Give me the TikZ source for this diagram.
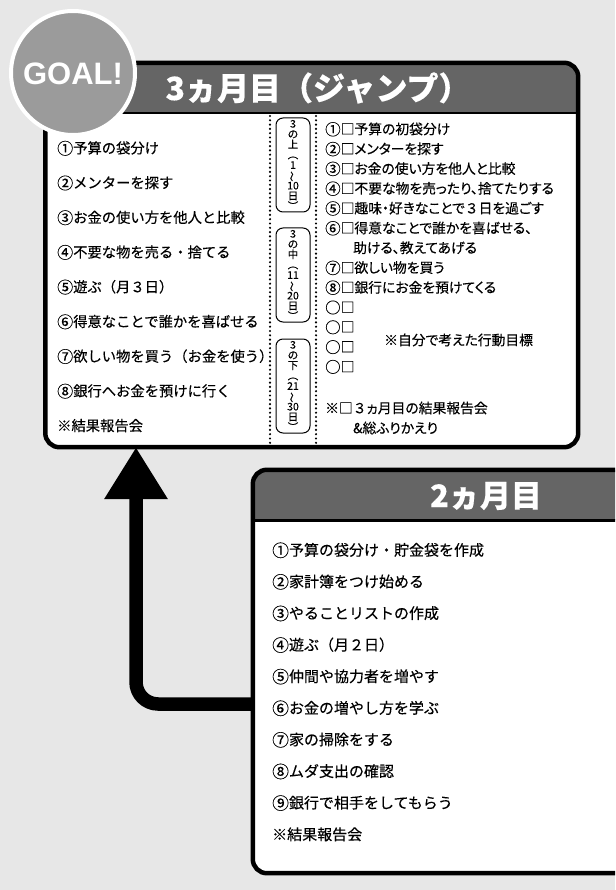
\documentclass[tikz,border=0pt]{standalone}
\usepackage{fontspec}
\usepackage{graphicx}
\usetikzlibrary{arrows.meta}
\setmainfont{Noto Sans CJK JP}[FakeBold=0.3]
\newfontfamily\rfont{Noto Sans CJK JP}[RawFeature=+palt, FakeBold=0.3]
\newfontfamily\nfont{Noto Sans CJK JP}[FakeBold=0.3]
\newfontfamily\goalfont{Liberation Sans}
\newcommand\cn[1]{\raisebox{-0.07em}{\scalebox{1.12}{#1}}}
\newcommand\pillopen{︵}
\newcommand\pillwave{\rotatebox[origin=c]{90}{〜}}
\definecolor{bgc}{HTML}{E7E7E7}
\definecolor{hdrc}{HTML}{656565}
\definecolor{goalc}{HTML}{9B9B9B}
\tikzset{
  ltxt/.style={anchor=base west, inner sep=0pt, font=\fontsize{14.3}{14.3}\selectfont},
  rtxt/.style={anchor=base west, inner sep=0pt, font=\rfont\fontsize{13.8}{13.8}\selectfont},
  btxt/.style={anchor=base west, inner sep=0pt, font=\fontsize{15}{15}\selectfont},
  boxbody/.style={fill=white, draw=none, inner sep=0pt, rounded corners=14pt},
  boxborder/.style={line width=4.5pt, rounded corners=14pt},
  hdrline/.style={line width=2.5pt},
  hdrtext/.style={text=white, inner sep=0pt},
  dotline/.style={line width=2.4pt, line cap=round, dash pattern=on 0pt off 4.3pt},
  pill/.style={draw, line width=1pt, rounded corners=7pt, minimum width=34pt, minimum height=94pt, inner sep=0pt, align=center, font=\fontsize{10.5}{10.3}\selectfont},
  bigarrow/.style={line width=13.5pt, rounded corners=22pt, -{Triangle[width=60pt,length=52pt]}}
}
\begin{document}
\begin{tikzpicture}[x=1pt,y=-1pt]
\fill[bgc] (0,0) rectangle (615,890);
\useasboundingbox (0,0) rectangle (615,890);
\clip (0,0) rectangle (615,890);

% ---------- 2nd month box ----------
\node[boxbody, minimum width=464pt, minimum height=403pt] (m2) at (485,671.5) {};
\fill[hdrc] (m2.west |- 0,520) [rounded corners=14pt] -- (m2.north west) -- (m2.north east) [sharp corners] -- (m2.east |- 0,520) -- cycle;
\draw[hdrline] (m2.west |- 0,520.5) -- (m2.east |- 0,520.5);
\draw[boxborder] (m2.north west) rectangle (m2.south east);
\node[hdrtext, font=\fontsize{31}{31}\selectfont\bfseries] (m2title) at (486,496) {2ヵ月目};

\foreach \t [count=\i] in {{\cn①予算の袋分け・貯金袋を作成},{\cn②家計簿をつけ始める},{\cn③やることリストの作成},{\cn④遊ぶ（月２日）},{\cn⑤仲間や協力者を増やす},{\cn⑥お金の増やし方を学ぶ},{\cn⑦家の掃除をする},{\cn⑧ムダ支出の確認},{\cn⑨銀行で相手をしてもらう},{※結果報告会}}
  \node[btxt] (b\i) at (272,{550+(\i-1)*31.6+5.6}) {\t};

% ---------- 3rd month box ----------
\node[boxbody, minimum width=532.5pt, minimum height=384pt] (m3) at (311.75,255) {};
\fill[hdrc] (m3.west |- 0,113) [rounded corners=14pt] -- (m3.north west) -- (m3.north east) [sharp corners] -- (m3.east |- 0,113) -- cycle;
\draw[hdrline] (m3.west |- 0,113) -- (m3.east |- 0,113);
\draw[boxborder] (m3.north west) rectangle (m3.south east);
\node[hdrtext, font=\fontsize{32}{32}\selectfont\bfseries] (m3title) at (318,88) {3ヵ月目（ジャンプ）};

% arrow from 2nd month to 3rd month
\coordinate (ay) at (0,704);
\coordinate (ax) at (136,0);
\draw[bigarrow] (m2.west |- ay) -| (ax |- m3.south);

% left column
\foreach \t [count=\i] in {{\cn①予算の袋分け},{\cn②メンターを探す},{\cn③お金の使い方を他人と比較},{\cn④不要な物を売る・捨てる},{\cn⑤遊ぶ（月３日）},{\cn⑥得意なことで誰かを喜ばせる},{\cn⑦欲しい物を買う（お金を使う）},{\cn⑧銀行へお金を預けに行く},{※結果報告会}}
  \node[ltxt] (l\i) at (57,{148+(\i-1)*34.7+5.4}) {\t};

% dotted separators
\draw[dotline] (270,116) -- (270,445);
\draw[dotline] (316,116) -- (316,445);

% pills
\node[pill] (p1) at (293,165) {3\\の\\上\\\pillopen\\1\\\pillwave\\10\\日\\︶};
\node[pill] (p2) at (293,275) {3\\の\\中\\\pillopen\\11\\\pillwave\\20\\日\\︶};
\node[pill] (p3) at (293,386) {3\\の\\下\\\pillopen\\21\\\pillwave\\30\\日\\︶};

% right column
\foreach \t [count=\i] in {{\cn①□予算の初袋分け},{\cn②□メンターを探す},{\cn③□お金の使い方を他人と比較},{\cn④□不要な物を売ったり、捨てたりする},{\cn⑤□趣味・好きなことで{\nfont ３}日を過ごす},{\cn⑥□得意なことで誰かを喜ばせる、},{},{\cn⑦□欲しい物を買う},{\cn⑧□銀行にお金を預けてくる},{\cn○□},{\cn○□},{\cn○□},{\cn○□}}
  \node[rtxt] (r\i) at (325,{129+(\i-1)*19.8+5.2}) {\t};
\node[rtxt] (r6b) at (353,{247.8+5.2}) {助ける、教えてあげる};
\node[rtxt] (rnote) at (384,{340+5.2}) {※自分で考えた行動目標};
\node[rtxt] (r14) at (325,{408+5.2}) {※□{\nfont ３}ヵ月目の結果報告会};
\node[rtxt] (r15) at (353,{428+5.2}) {\&総ふりかえり};

% GOAL circle
\draw[fill=goalc, draw=white, line width=4pt] (73,73) circle (62);
\node[text=white, font=\goalfont\bfseries\fontsize{31}{31}\selectfont, inner sep=0pt] (goal) at (73,74) {GOAL!};
\end{tikzpicture}
\end{document}
